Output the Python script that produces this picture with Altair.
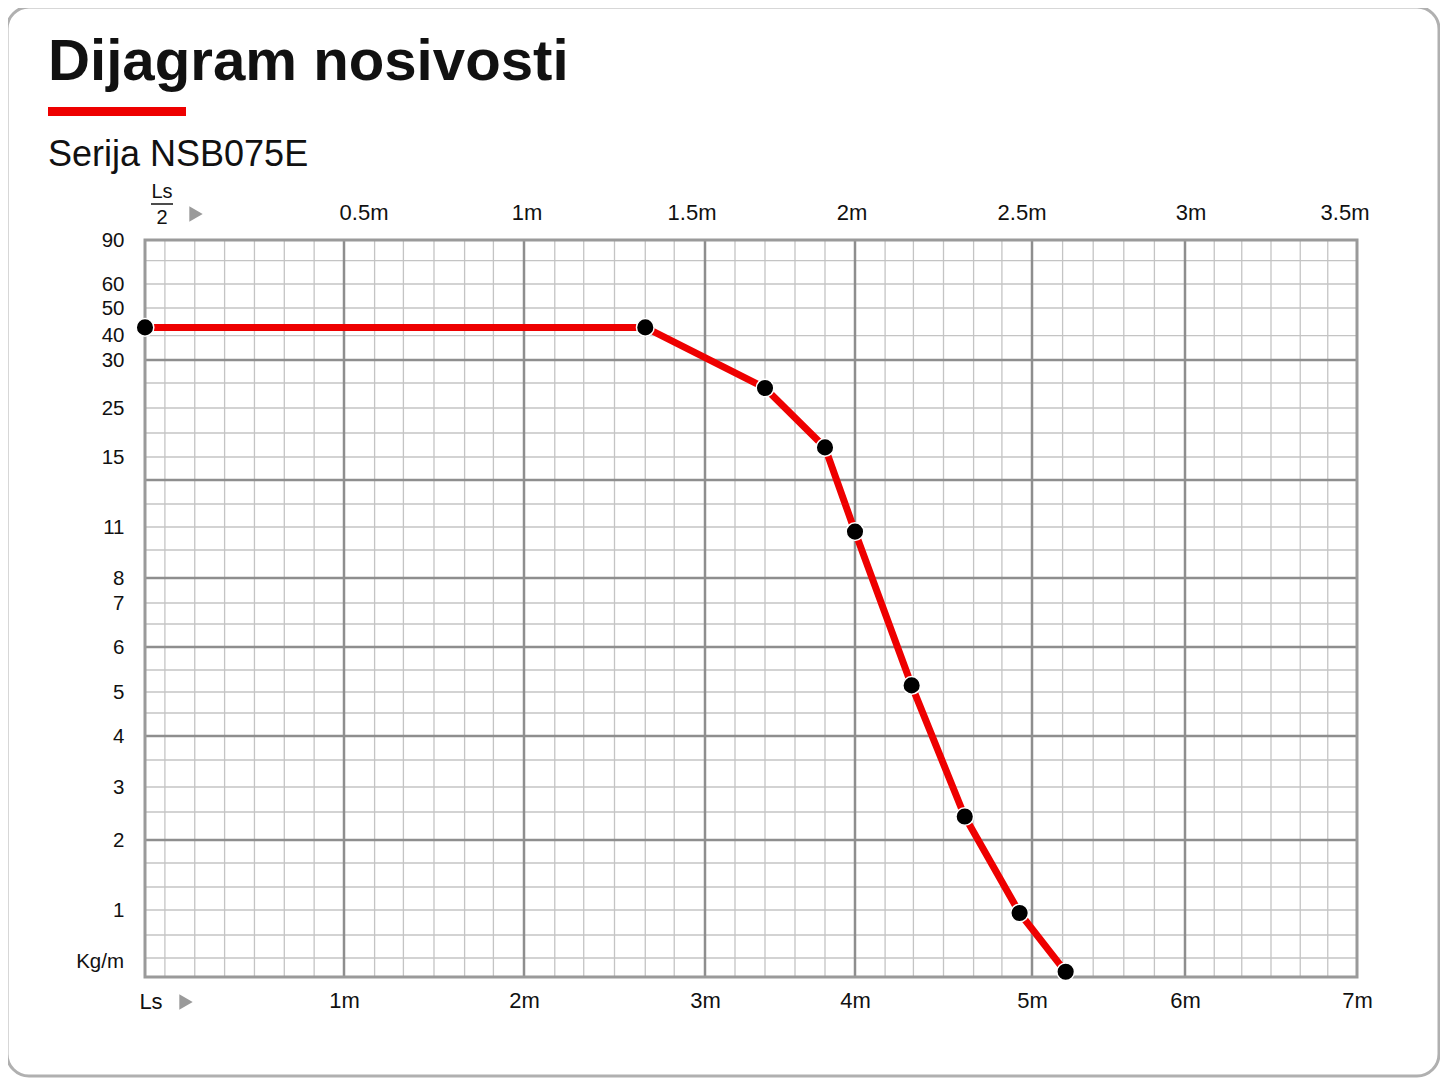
import altair as alt
import pandas as pd

# load curve: span Ls (m) vs allowed load (kg/m)
ls_m = [0, 2.67, 3.4, 3.8, 4.0, 4.32, 4.62, 4.93, 5.22]
load_kg = [43, 43, 27, 17, 10.7, 5.15, 2.42, 0.96, 0.09]

# axis labels
x_ticks = [1, 2, 3, 4, 5, 6, 7]
top_ticks = [0.5, 1, 1.5, 2, 2.5, 3, 3.5]
top_labels = ['0.5m', '1m', '1.5m', '2m', '2.5m', '3m', '3.5m']
y_ticks = [90, 60, 50, 40, 30, 25, 15, 11, 8, 7, 6, 5, 4, 3, 2, 1]

# grid lines (chart units)
x_major = [1, 2, 3, 4, 5, 6]
x_minor = [0.1, 0.25, 0.4, 0.55, 0.7, 0.85,
           1.17, 1.33, 1.5, 1.67, 1.83,
           2.17, 2.33, 2.5, 2.67, 2.83,
           3.2, 3.4, 3.6, 3.8,
           4.17, 4.33, 4.5, 4.67, 4.83,
           5.2, 5.4, 5.6, 5.8,
           6.17, 6.33, 6.5, 6.67, 6.83]
y_major = [30, 13, 8, 6, 4, 2]
y_minor = [75, 60, 50, 40, 27.5, 25, 20, 15, 12, 11, 9.5, 7, 6.5, 5.5, 5,
           4.5, 3.5, 3, 2.5, 1.67, 1.33, 1, 0.67, 0.33]

## the printed chart paper is not linear -> piecewise scales
W, H = 1212, 737
x_breaks = [0, 1, 2, 3, 4, 5, 6, 7]
x_px = [0, 199, 379, 560, 710, 887, 1040, 1212]
top_breaks = [0, 0.5, 1, 1.5, 2, 2.5, 3, 3.5]
top_px = [0, 219, 382, 547, 707, 877, 1046, 1200]
y_breaks = [0, 0.33, 0.67, 1, 1.33, 1.67, 2, 2.5, 3, 3.5, 4, 4.5, 5, 5.5, 6, 6.5,
            7, 8, 9.5, 11, 12, 13, 15, 20, 25, 27.5, 30, 40, 50, 60, 75, 90]
y_px = [737, 718, 695, 670, 647, 623, 600, 572, 547, 520, 496, 473, 452, 430, 407, 384,
        363, 338, 310, 287, 264, 240, 217, 193, 168, 143, 120, 95.7, 68, 44, 20.7, 0]

FONT = 'Liberation Sans'
x_scale = alt.Scale(domain=x_breaks, range=x_px, nice=False, zero=False)
top_scale = alt.Scale(domain=top_breaks, range=top_px, nice=False, zero=False)
y_scale = alt.Scale(domain=y_breaks, range=y_px, nice=False, zero=False)
y_axis = alt.Axis(values=y_ticks, title=None, domain=False, ticks=False, grid=False,
                  labelPadding=21, labelFontSize=20.5, labelFont=FONT, labelColor='#111',
                  labelOverlap=False, labelFlush=False)

curve = pd.DataFrame({'ls': ls_m, 'kg': load_kg})


def txt(text, x, y, size, weight='normal', align='left', baseline='middle', color='#111'):
    return alt.Chart(pd.DataFrame({'t': [text]})).mark_text(
        font=FONT, fontSize=size, fontWeight=weight, align=align, baseline=baseline, color=color
    ).encode(x=alt.value(x), y=alt.value(y), text='t:N')


def tri(x, y):
    return alt.Chart(pd.DataFrame({'a': [0]})).mark_point(
        shape='triangle-right', filled=True, color='#9a9a9a', size=240, opacity=1
    ).encode(x=alt.value(x), y=alt.value(y))


one = pd.DataFrame({'a': [0]})

frame = alt.Chart(one).mark_rect(cornerRadius=22, fillOpacity=0, stroke='#b0b0b0', strokeWidth=3).encode(
    x=alt.value(-138), x2=alt.value(1294), y=alt.value(-233), y2=alt.value(836))

red_bar = alt.Chart(one).mark_rect(color='#ee0000').encode(
    x=alt.value(-97), x2=alt.value(41), y=alt.value(-133), y2=alt.value(-124))

frac_line = alt.Chart(one).mark_rule(color='#111', strokeWidth=1.5).encode(
    x=alt.value(6), x2=alt.value(28), y=alt.value(-36))

# plot border
border = alt.Chart(one).mark_rect(fillOpacity=0, stroke='#9a9a9a', strokeWidth=3).encode(
    x=alt.value(0), x2=alt.value(W), y=alt.value(0), y2=alt.value(H))

grid_v_minor = alt.Chart(pd.DataFrame({'ls': x_minor})).mark_rule(color='#c4c4c4', strokeWidth=1.3).encode(
    x=alt.X('ls:Q', scale=x_scale, axis=None))
grid_v_major = alt.Chart(pd.DataFrame({'ls': x_major})).mark_rule(color='#8e8e8e', strokeWidth=2.5).encode(
    x=alt.X('ls:Q', scale=x_scale, axis=None))
grid_h_minor = alt.Chart(pd.DataFrame({'kg': y_minor})).mark_rule(color='#c4c4c4', strokeWidth=1.3).encode(
    y=alt.Y('kg:Q', scale=y_scale, axis=y_axis))
grid_h_major = alt.Chart(pd.DataFrame({'kg': y_major})).mark_rule(color='#8e8e8e', strokeWidth=2.5).encode(
    y=alt.Y('kg:Q', scale=y_scale, axis=y_axis))

line = alt.Chart(curve).mark_line(color='#ee0000', strokeWidth=7).encode(
    x=alt.X('ls:Q', scale=x_scale,
            axis=alt.Axis(values=x_ticks, title=None, domain=False, ticks=False, grid=False,
                          labelExpr="datum.value + 'm'", labelPadding=13, labelFontSize=22,
                          labelFont=FONT, labelColor='#111', labelFlush=False, labelOverlap=False)),
    y=alt.Y('kg:Q', scale=y_scale, axis=y_axis),
)
dots = alt.Chart(curve).mark_circle(color='#000', size=310, opacity=1, stroke='white', strokeWidth=1.5).encode(
    x=alt.X('ls:Q', scale=x_scale, axis=None),
    y=alt.Y('kg:Q', scale=y_scale, axis=y_axis),
)

top = alt.Chart(pd.DataFrame({'half': top_ticks, 'lab': top_labels})).mark_text(
    font=FONT, fontSize=22, color='#111', baseline='middle', align='center'
).encode(
    x=alt.X('half:Q', scale=top_scale, axis=None),
    y=alt.value(-27),
    text='lab:N',
)

chart = alt.layer(
    frame,
    red_bar,
    txt('Dijagram nosivosti', -97, -160, 58.2, weight='bold', baseline='alphabetic'),
    txt('Serija NSB075E', -97, -74, 36, baseline='alphabetic'),
    grid_v_minor, grid_h_minor, grid_v_major, grid_h_major,
    border,
    line, dots,
    top,
    txt('Ls', 17, -48, 20, align='center'),
    frac_line,
    txt('2', 17, -22, 20, align='center'),
    tri(51, -26),
    txt('Ls', 6, 762, 22, align='center'),
    tri(41, 762),
    txt('Kg/m', -21, 722, 20.5, align='right'),
).resolve_scale(
    x='independent'
).properties(
    width=W, height=H,
    autosize='none',
    padding={'left': 137, 'top': 232, 'right': 83, 'bottom': 101},
).configure_view(
    stroke=None
).configure(background='white')

chart.save("out.html", embed_options={"renderer": "svg", "actions": False})
